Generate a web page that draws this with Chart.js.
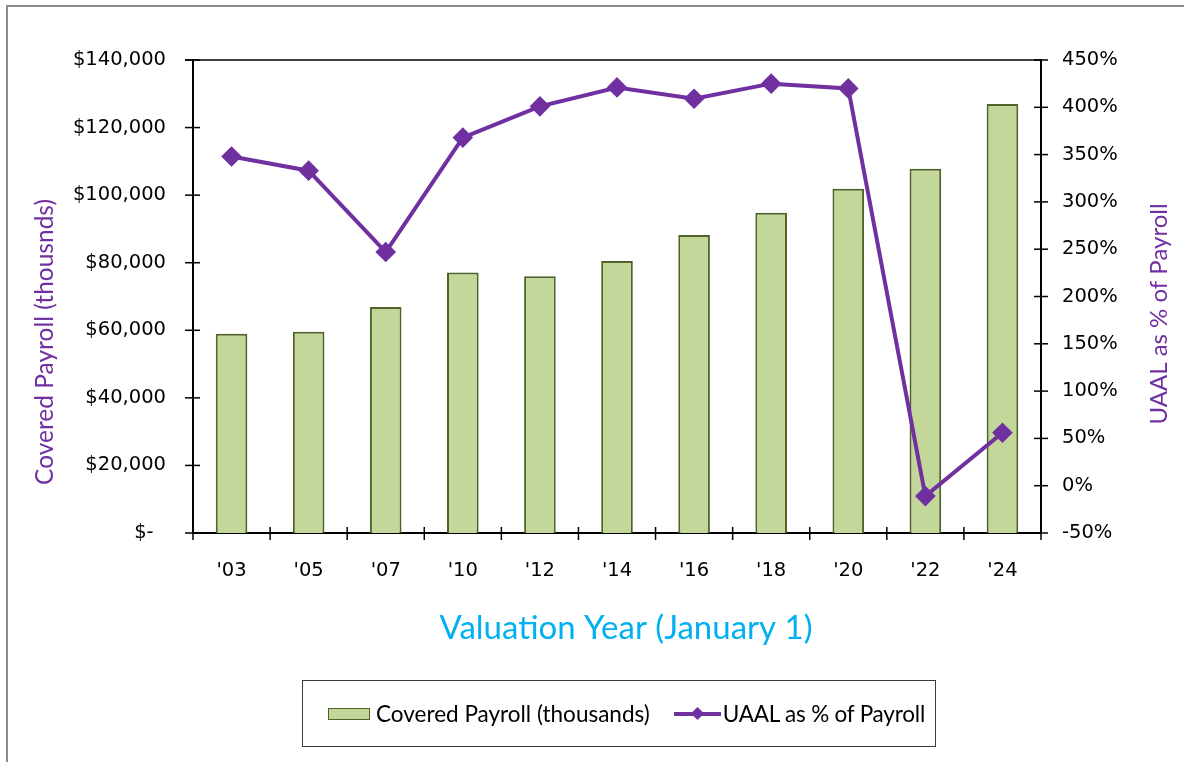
<!DOCTYPE html>
<html>
<head>
<meta charset="utf-8">
<script src="https://cdn.jsdelivr.net/npm/chart.js@4.4.1/dist/chart.umd.min.js"></script>
<style>
  body { margin: 0; background: #fff; }
  #wrap { position: relative; width: 1184px; height: 762px; overflow: hidden; background: #fff; }
  .frame { position: absolute; left: 6px; top: 5px; width: 1300px; height: 900px;
           border-left: 2px solid #8c8c8c; border-top: 2px solid #8c8c8c; }
  #chart { position: absolute; left: 0; top: 0; }
  .legend { position: absolute; left: 302px; top: 680px; width: 634px; height: 67px;
            border: 1px solid #3a3a3a; display: flex; align-items: center; padding-left: 25px;
            box-sizing: border-box; font-family: Lato, sans-serif; font-size: 22.5px; color: #000; }
  .sw-bar { width: 40px; height: 10px; background: #c4d79b; border: 1px solid #4f6228; }
  .sw-line { position: relative; width: 47px; height: 4px; background: #7030a0; margin-left: 24px; }
  .sw-line i { position: absolute; left: 18px; top: -4px; width: 11px; height: 11px;
               background: #7030a0; transform: rotate(45deg) scale(0.85, 0.85); }
  .lbl1 { margin-left: 6px; }
  .lbl2 { margin-left: 2px; letter-spacing: -0.2px; }
</style>
</head>
<body>
<div id="wrap">
  <div class="frame"></div>
  <canvas id="chart" width="1184" height="762"></canvas>
  <div class="legend">
    <span class="sw-bar"></span><span class="lbl1">Covered Payroll (thousands)</span>
    <span class="sw-line"><i></i></span><span class="lbl2">UAAL as % of Payroll</span>
  </div>
</div>
<script>
// Valuation years and values
const years = ["'03", "'05", "'07", "'10", "'12", "'14", "'16", "'18", "'20", "'22", "'24"]
const payroll = [59000, 59600, 66900, 77100, 76000, 80500, 88200, 94800, 101900, 107800, 127000]
const uaalPct = [348, 333, 247, 368, 401, 421, 409, 425, 420, -11, 56]

const payrollTicks = { min: 0, max: 140000, step: 20000 }
const pctTicks = { min: -50, max: 450, step: 50 }

Chart.defaults.font.family = 'DejaVu Sans'
Chart.defaults.color = '#000'

// tick marks that cross the axis lines, plus the top border of the plot
const crossTicks = {
    id: 'crossTicks',
    afterDraw(chart) {
        const { ctx, chartArea: a, scales } = chart
        const line = (x1, y1, x2, y2) => {
            ctx.beginPath()
            ctx.moveTo(x1, y1)
            ctx.lineTo(x2, y2)
            ctx.stroke()
        }
        ctx.save()
        ctx.strokeStyle = '#000'
        ctx.lineWidth = 1.5
        line(a.left - 8, a.top, a.right, a.top)

        scales.y.ticks.forEach((t, i) => {
            const y = scales.y.getPixelForTick(i)
            line(a.left - 8, y, a.left + 7, y)
        })
        scales.y1.ticks.forEach((t, i) => {
            const y = scales.y1.getPixelForTick(i)
            line(a.right - 7, y, a.right + 7, y)
        })
        const step = scales.x.getPixelForValue(1) - scales.x.getPixelForValue(0)
        for (let i = 0; i <= years.length; i++) {
            const x = scales.x.getPixelForValue(i) - step / 2
            line(x, a.bottom - 6, x, a.bottom + 7)
        }
        ctx.restore()
    }
}

// axis titles (right one reads bottom-to-top like the left one)
const axisTitles = {
    id: 'axisTitles',
    afterDraw(chart) {
        const { ctx } = chart
        const rotated = (text, x, y, color, size) => {
            ctx.save()
            ctx.translate(x, y)
            ctx.rotate(-Math.PI / 2)
            ctx.fillStyle = color
            ctx.font = size + 'px Lato'
            ctx.textAlign = 'center'
            ctx.textBaseline = 'middle'
            ctx.fillText(text, 0, 0)
            ctx.restore()
        }
        rotated('Covered Payroll (thousnds)', 45, 342, '#7030a0', 24.5)
        rotated('UAAL as % of Payroll', 1159, 314, '#7030a0', 24)

        ctx.save()
        ctx.fillStyle = '#00b0f0'
        ctx.font = '33px Lato'
        ctx.textAlign = 'center'
        ctx.textBaseline = 'middle'
        ctx.fillText('Valuation Year (January 1)', 626, 628)
        ctx.restore()
    }
}

new Chart(document.getElementById('chart'), {
    data: {
        labels: years,
        datasets: [
            {
                type: 'line',
                label: 'UAAL as % of Payroll',
                data: uaalPct,
                yAxisID: 'y1',
                order: 0,
                borderColor: '#7030a0',
                backgroundColor: '#7030a0',
                borderWidth: 4,
                pointStyle: 'rectRot',
                pointRadius: 7.5,
                pointBackgroundColor: '#7030a0',
                pointBorderColor: '#7030a0',
                tension: 0
            },
            {
                type: 'bar',
                label: 'Covered Payroll (thousands)',
                data: payroll,
                yAxisID: 'y',
                order: 1,
                backgroundColor: '#c4d79b',
                borderColor: '#4f6228',
                borderWidth: 2,
                barPercentage: 0.41,
                categoryPercentage: 1
            }
        ]
    },
    options: {
        responsive: false,
        animation: false,
        layout: { padding: { top: 60, left: 0, right: 0, bottom: 0 } },
        plugins: {
            legend: { display: false },
            tooltip: { enabled: false }
        },
        scales: {
            x: {
                grid: { display: false },
                border: { display: true, color: '#000', width: 2 },
                ticks: { padding: 18, font: { size: 19.5 } },
                afterFit(s) { s.height = 229 }
            },
            y: {
                position: 'left',
                min: payrollTicks.min,
                max: payrollTicks.max,
                grid: { display: false },
                border: { display: true, color: '#000', width: 2 },
                ticks: {
                    stepSize: payrollTicks.step,
                    padding: 19,
                    font: { size: 19.5 },
                    callback: v => v === 0 ? '$-  ' : '$' + v.toLocaleString('en-US')
                },
                afterFit(s) { s.width = 193 }
            },
            y1: {
                position: 'right',
                min: pctTicks.min,
                max: pctTicks.max,
                grid: { display: false },
                border: { display: true, color: '#000', width: 2 },
                ticks: {
                    stepSize: pctTicks.step,
                    padding: 13,
                    font: { size: 19.5 },
                    callback: v => v + '%'
                },
                afterFit(s) { s.width = 143 }
            }
        }
    },
    plugins: [crossTicks, axisTitles]
})
</script>
</body>
</html>
